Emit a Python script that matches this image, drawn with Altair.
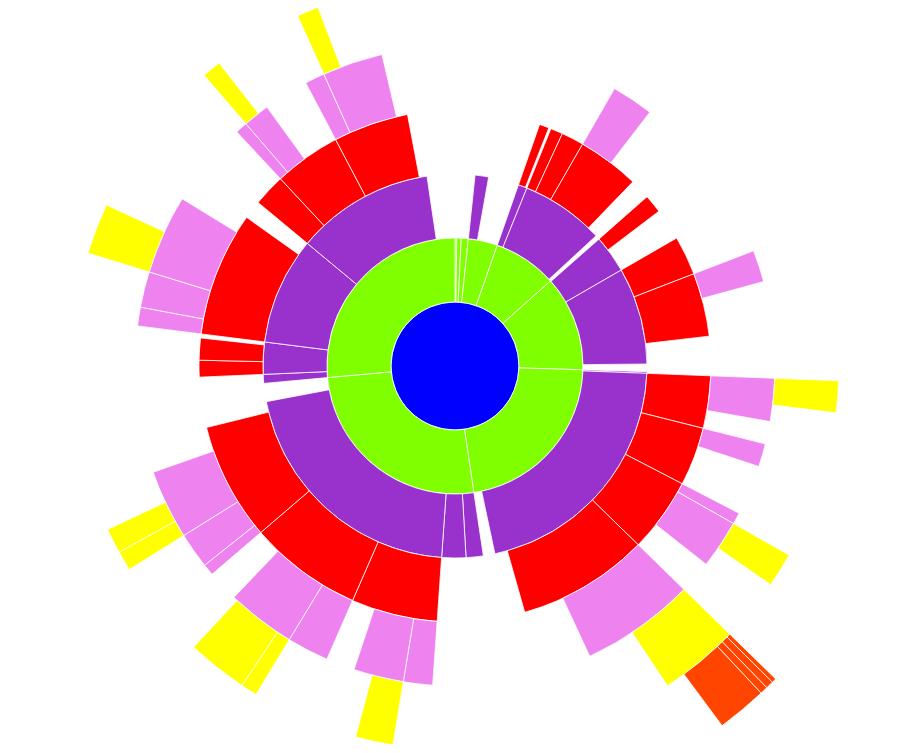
import altair as alt
import pandas as pd

# Angular extent (degrees, clockwise from 12 o'clock) of each node, per ring depth
ring0 = [(0.0, 360.0)]
ring1 = [(0.0, 0.8), (0.8, 2.8), (2.8, 6.0), (6.0, 19.3), (19.3, 48.3),
         (48.3, 91.7), (91.7, 171.5), (171.5, 264.8), (264.8, 360.0)]
ring2 = [(6.0, 10.1), (19.3, 22.0), (22.0, 47.3), (48.6, 60.0), (60.0, 89.4),
         (91.7, 92.2), (92.2, 168.0), (171.5, 176.7), (176.7, 184.0),
         (184.0, 259.3), (264.8, 267.5), (267.5, 277.2), (277.2, 309.7),
         (309.7, 351.6)]
ring3 = [(19.3, 21.5), (22.0, 24.8), (24.8, 29.9), (29.9, 44.0), (48.6, 52.8),
         (60.0, 68.9), (68.9, 83.3), (92.2, 104.1), (104.1, 117.4),
         (117.4, 134.3), (134.3, 164.2), (184.0, 203.6), (203.6, 229.4),
         (229.4, 256.1), (267.5, 271.3), (271.3, 276.3), (277.2, 305.5),
         (309.7, 317.0), (317.0, 332.2), (332.2, 349.3)]
ring4 = [(29.9, 37.5), (68.9, 74.7), (92.2, 100.0), (104.1, 108.3),
         (117.4, 119.5), (119.5, 128.3), (134.3, 155.1), (184.0, 189.3),
         (189.3, 198.4), (203.6, 211.2), (211.2, 223.7), (229.4, 231.5),
         (231.5, 238.0), (238.0, 250.6), (277.2, 280.6), (280.6, 287.1),
         (287.1, 301.5), (317.0, 319.2), (319.2, 324.0), (332.2, 335.8),
         (335.8, 346.8)]
ring5 = [(92.2, 97.0), (119.5, 124.7), (134.3, 146.4), (189.3, 195.0),
         (211.2, 213.7), (213.7, 222.9), (238.0, 241.0), (241.0, 244.8),
         (287.1, 294.8), (319.2, 322.1), (335.8, 339.1)]
ring6 = [(134.3, 134.9), (134.9, 135.9), (135.9, 136.9), (136.9, 143.4)]

depth_colors = ["#0000ff", "#80ff00", "#9932cc", "#ff0000", "#ee82ee", "#ffff00", "#ff4500"]

rows = []
for depth, ring in enumerate([ring0, ring1, ring2, ring3, ring4, ring5, ring6]):
    for a0, a1 in ring:
        rows.append({"depth": depth, "a0": a0, "a1": a1, "r0": depth, "r1": depth + 1})
df = pd.DataFrame(rows)

chart = alt.Chart(df).mark_arc(stroke="white", strokeWidth=0.8).encode(
    theta=alt.Theta("a0:Q", stack=False,
                    scale=alt.Scale(domain=[0, 360], range=[0, 6.283185307179586])),
    theta2="a1:Q",
    radius=alt.Radius("r0:Q", stack=False,
                      scale=alt.Scale(type="linear", domain=[0, 7], range=[0, 448], zero=True)),
    radius2="r1:Q",
    color=alt.Color("depth:N", scale=alt.Scale(domain=list(range(7)), range=depth_colors),
                    legend=None),
).properties(
    width=894,
    height=716,
    autosize=alt.AutoSizeParams(type="none"),
    padding={"left": 0, "top": 0, "right": 0, "bottom": 20},
).configure_view(stroke=None)

chart.save("out.html", embed_options={"renderer": "svg", "actions": False})
